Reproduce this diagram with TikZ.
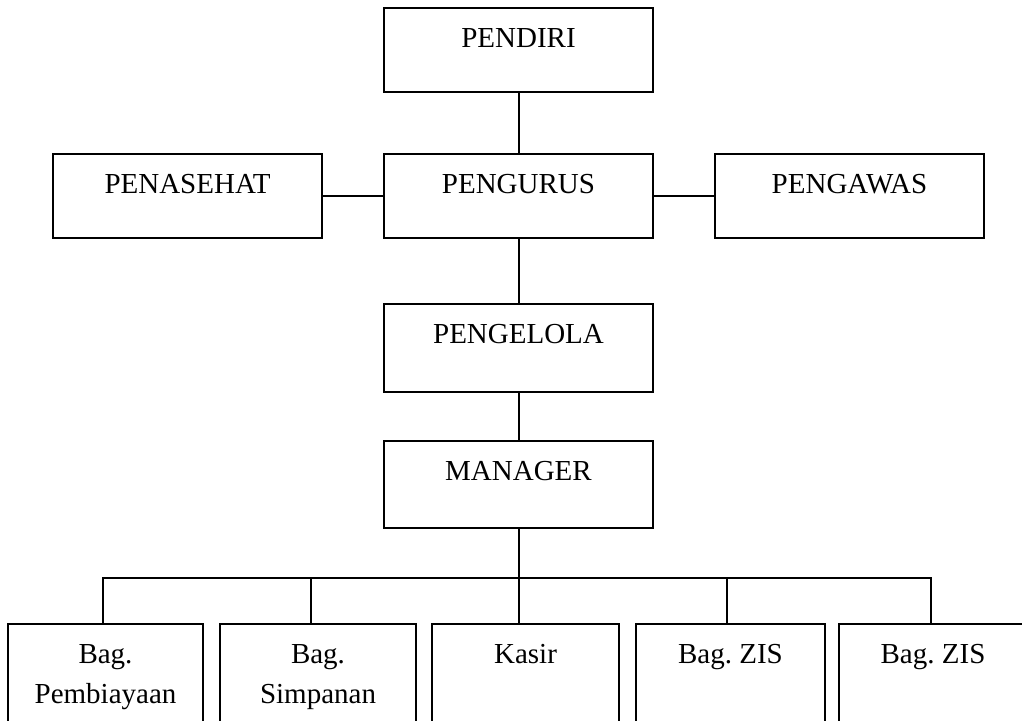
\documentclass[tikz,border=0pt]{standalone}
\usepackage{fontspec}
\setmainfont{Liberation Serif}
\usetikzlibrary{positioning}
\newcommand*{\jab}{\fontsize{29}{40}\selectfont\frenchspacing}

\begin{document}
\begin{tikzpicture}[x=1pt, y=-1pt, line width=2pt, node distance=62pt]
\tikzstyle{jabatan}=[draw, inner sep=0pt, outer sep=0pt, minimum width=269pt, text height=39pt, text depth=45pt, font=\jab]
\tikzstyle{bagian}=[draw, inner sep=0pt, outer sep=0pt, align=center, text height=39pt, text depth=90pt, font=\jab]
\clip (0,0) rectangle (1022,720);
\node[jabatan, anchor=north] (pengurus) at (518.5,154) {PENGURUS};
\node[jabatan]  (pendiri)[above=of pengurus]   {PENDIRI};
\node[jabatan]  (penasehat)[left=of pengurus]  {PENASEHAT};
\node[jabatan]  (pengawas)[right=of pengurus]  {PENGAWAS};
\node[jabatan, text depth=49pt] (pengelola)[below=66pt of pengurus] {PENGELOLA};
\node[jabatan, text depth=48pt] (manager)[below=49pt of pengelola]  {MANAGER};
\coordinate[below=50pt of manager.south] (bus);
% bagian di bawah manager
\node[bagian, text height=79pt, text depth=50pt, minimum width=195pt, anchor=north west] (b1) at (8,624) {Bag.\\Pembiayaan};
\node[bagian, text height=79pt, text depth=50pt, minimum width=196pt] (b2)[right=17pt of b1] {Bag.\\Simpanan};
\node[bagian, minimum width=187pt] (b3)[right=16pt of b2] {Kasir};
\node[bagian, minimum width=189pt] (b4)[right=17pt of b3] {Bag. ZIS};
\node[bagian, minimum width=188pt] (b5)[right=14pt of b4] {Bag. ZIS};
\draw (pendiri) -- (pengurus);
\draw (penasehat) -- (pengurus) -- (pengawas);
\draw (pengurus) -- (pengelola) -- (manager) -- (bus);
\foreach \b/\dx in {b1/-3,b2/-7,b3/-7,b4/-4,b5/-2}
  \draw ([xshift=\dx pt]\b.north) |- (bus);
\end{tikzpicture}
\end{document}
